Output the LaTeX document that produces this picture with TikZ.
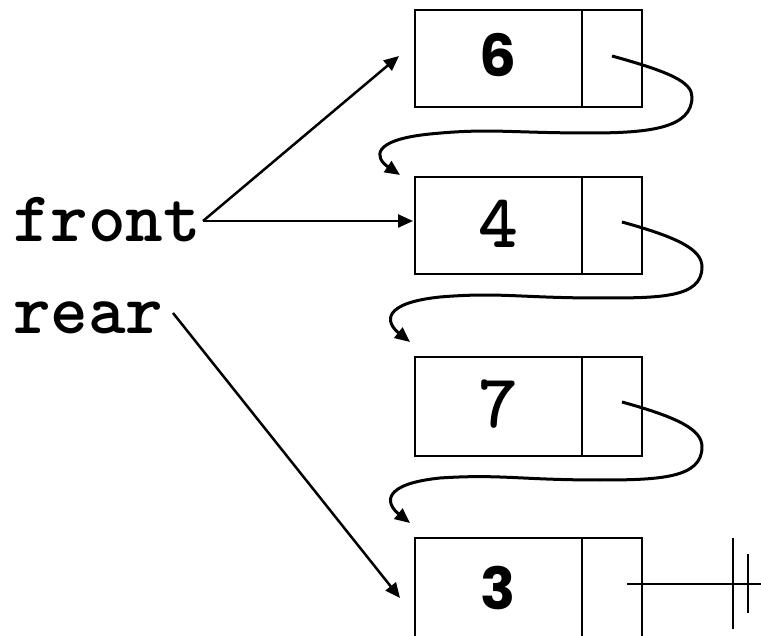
\documentclass[tikz,border=0pt]{standalone}
\usepackage{fontspec}
\usetikzlibrary{arrows.meta}
\newfontfamily\roundfont{Poppins}
\begin{document}
\begin{tikzpicture}[x=1pt,y=-1pt,
  every node/.style={inner sep=0pt, outer sep=0pt},
  cell/.style={draw, line width=2.6pt, minimum height=97pt},
  valcell/.style={cell, minimum width=167pt},
  ptrcell/.style={cell, minimum width=60pt},
  codelabel/.style={font=\ttfamily\bfseries\fontsize{71.6}{76}\selectfont},
  mononum/.style={font=\ttfamily\bfseries\fontsize{76}{80}\selectfont},
  roundnum/.style={font=\roundfont\bfseries\fontsize{58}{64}\selectfont},
  link/.style={line width=2.5pt, -{Triangle[length=15pt,width=13pt]}},
  curvelink/.style={link, line width=3pt},
  plain/.style={line width=2.5pt}]
\useasboundingbox (0,0) rectangle (761,636);

% list cells: value part and pointer part
\node[valcell, anchor=north west] (v1) at (415,10) {};
\node[ptrcell, anchor=north west] (p1) at (v1.north east) {};
\node[valcell, anchor=north west] (v2) at (415,177) {};
\node[ptrcell, anchor=north west] (p2) at (v2.north east) {};
\node[valcell, anchor=north west, minimum height=99pt] (v3) at (415,357) {};
\node[ptrcell, anchor=north west, minimum height=99pt] (p3) at (v3.north east) {};
\node[valcell, anchor=north west, minimum height=102pt] (v4) at (415,538) {};
\node[ptrcell, anchor=north west, minimum height=102pt] (p4) at (v4.north east) {};

% stored values
\node[roundnum] (n1) at (498,55) {6};
\node[mononum] (n2) at (498,224) {4};
\node[mononum] (n3) at (498,404) {7};
\node[roundnum] (n4) at (498,588) {3};

% variable names
\node[codelabel, anchor=base west] (front) at (13,242) {front};
\node[codelabel, anchor=base west] (rear) at (13,334) {rear};

% arrow end points
\coordinate (fj) at (203,221);
\coordinate (t1) at (399,56);
\coordinate (t2) at (413,221);
\coordinate (rj) at (173,313);
\coordinate (t4) at (400,598);

\draw[link] (fj) -- (t1);
\draw[link] (fj) -- (t2);
\draw[link] (rj) -- (t4);

% next pointers
\coordinate (s1) at (612,56);
\coordinate (e1) at (400,175);
\draw[curvelink] (s1) .. controls (670,72) and (692,82) .. (692,97)
  .. controls (692,128) and (650,133) .. (590,133)
  .. controls (510,133) and (490,128) .. (430,134)
  .. controls (370,140) and (375,158) .. (e1);

\coordinate (s2) at (622,222);
\coordinate (e2) at (410,342);
\draw[curvelink] (s2) .. controls (680,238) and (702,250) .. (702,267)
  .. controls (702,298) and (660,298) .. (600,298)
  .. controls (520,298) and (500,292) .. (440,297)
  .. controls (382,303) and (385,322) .. (e2);

\coordinate (s3) at (622,402);
\coordinate (e3) at (410,523);
\draw[curvelink] (s3) .. controls (680,418) and (702,430) .. (702,447)
  .. controls (702,478) and (660,480) .. (600,480)
  .. controls (520,480) and (500,474) .. (440,478)
  .. controls (382,484) and (385,503) .. (e3);

% null pointer of the last cell
\coordinate (s4) at (627,584);
\coordinate (g0) at (761,584);
\coordinate (ga) at (733,538);
\coordinate (gb) at (733,629);
\coordinate (gc) at (748,554);
\coordinate (gd) at (748,613);
\draw[plain] (s4) -- (g0);
\draw[plain] (ga) -- (gb);
\draw[plain] (gc) -- (gd);
\end{tikzpicture}
\end{document}
